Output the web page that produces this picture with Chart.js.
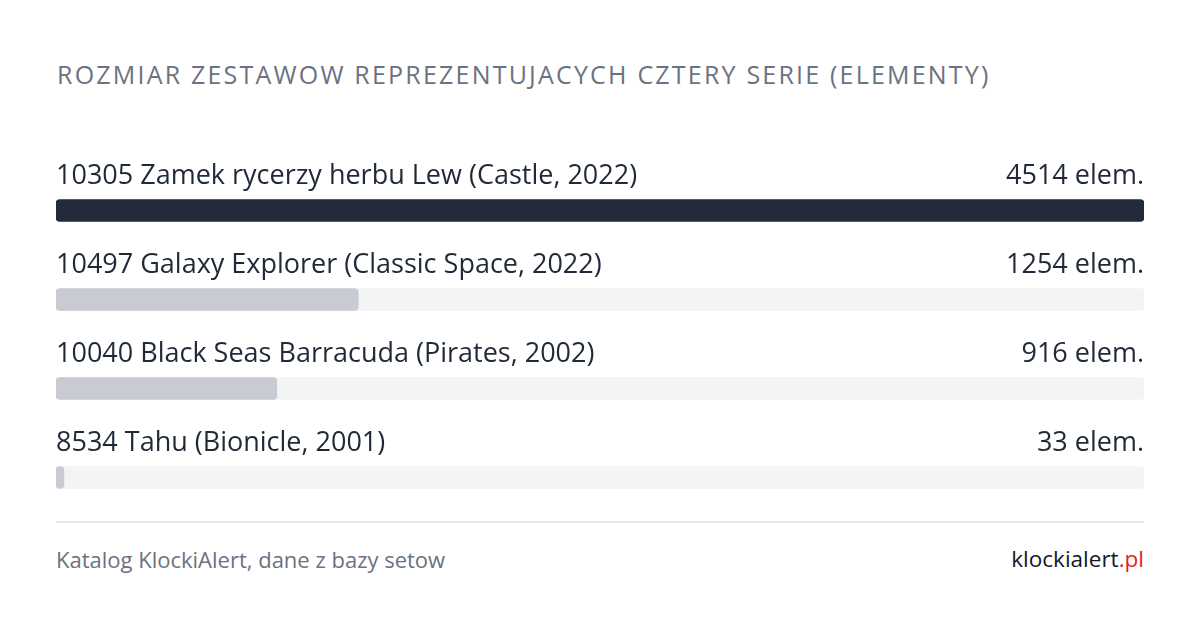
<!DOCTYPE html>
<html>
<head>
<meta charset="utf-8">
<script src="https://cdn.jsdelivr.net/npm/chart.js@4"></script>
<style>
  html, body { margin: 0; padding: 0; background: #fff; }
  body { width: 1200px; height: 630px; position: relative; overflow: hidden; font-family: 'Open Sans', 'Noto Sans', sans-serif; }
  .title { position: absolute; left: 57px; top: 57px; font-size: 25px; letter-spacing: 2.2px; color: #6b7280; white-space: nowrap; }
  .chart-wrap { position: absolute; left: 56px; top: 140px; width: 1088px; height: 382px; }
  .rule { position: absolute; left: 56px; top: 521px; width: 1088px; height: 2px; background: #e5e7eb; }
  .source { position: absolute; left: 56px; top: 544px; font-size: 22px; color: #6b7280; }
  .brand { position: absolute; right: 56px; top: 543px; font-size: 22.5px; color: #111827; }
  .brand span { color: #dc2626; }
</style>
</head>
<body>
<div class="title">ROZMIAR ZESTAWOW REPREZENTUJACYCH CZTERY SERIE (ELEMENTY)</div>
<div class="chart-wrap"><canvas id="chart"></canvas></div>
<div class="rule"></div>
<div class="source">Katalog KlockiAlert, dane z bazy setow</div>
<div class="brand">klockialert<span>.pl</span></div>
<script>
// ── dane ─────────────────────────────────────────────────────────────────────
const setNames  = [
  '10305 Zamek rycerzy herbu Lew (Castle, 2022)',
  '10497 Galaxy Explorer (Classic Space, 2022)',
  '10040 Black Seas Barracuda (Pirates, 2002)',
  '8534 Tahu (Bionicle, 2001)'
];
const pieceCounts = [4514, 1254, 916, 33];
const unitLabel   = 'elem.';

const maxCount = Math.max(...pieceCounts);
const trackData = setNames.map(() => maxCount);
const barColors = pieceCounts.map((_, i) => i === 0 ? '#222b3a' : '#c8ccd2');

// ── etykiety nad paskami ─────────────────────────────────────────────────────
const labelPlugin = {
  id: 'rowLabels',
  afterDatasetsDraw(chart) {
    const { ctx, chartArea } = chart;
    const meta = chart.getDatasetMeta(0);
    ctx.save();
    ctx.font = '27px "Open Sans", "Noto Sans", sans-serif';
    ctx.fillStyle = '#1f2937';
    ctx.textBaseline = 'alphabetic';
    meta.data.forEach((bar, i) => {
      const y = bar.y - 27;
      ctx.textAlign = 'left';
      ctx.fillText(setNames[i], chartArea.left, y);
      ctx.textAlign = 'right';
      ctx.fillText(`${pieceCounts[i]} ${unitLabel}`, chartArea.right, y);
    });
    ctx.restore();
  }
};

new Chart(document.getElementById('chart'), {
  type: 'bar',
  data: {
    labels: setNames,
    datasets: [
      {
        label: 'elementy', data: pieceCounts, backgroundColor: barColors,
        borderRadius: 4, borderSkipped: false, barThickness: 22, grouped: false
      },
      {
        label: 'tło', data: trackData, backgroundColor: '#f3f4f6',
        borderRadius: 4, borderSkipped: false, barThickness: 22, grouped: false
      }
    ]
  },
  options: {
    indexAxis: 'y',
    responsive: true, maintainAspectRatio: false, animation: false,
    layout: { padding: { top: 26, bottom: 0, left: 0, right: 0 } },
    plugins: { legend: { display: false }, tooltip: { enabled: false } },
    scales: {
      x: { display: false, min: 0, max: maxCount },
      y: { display: false }
    }
  },
  plugins: [labelPlugin]
});
</script>
</body>
</html>
